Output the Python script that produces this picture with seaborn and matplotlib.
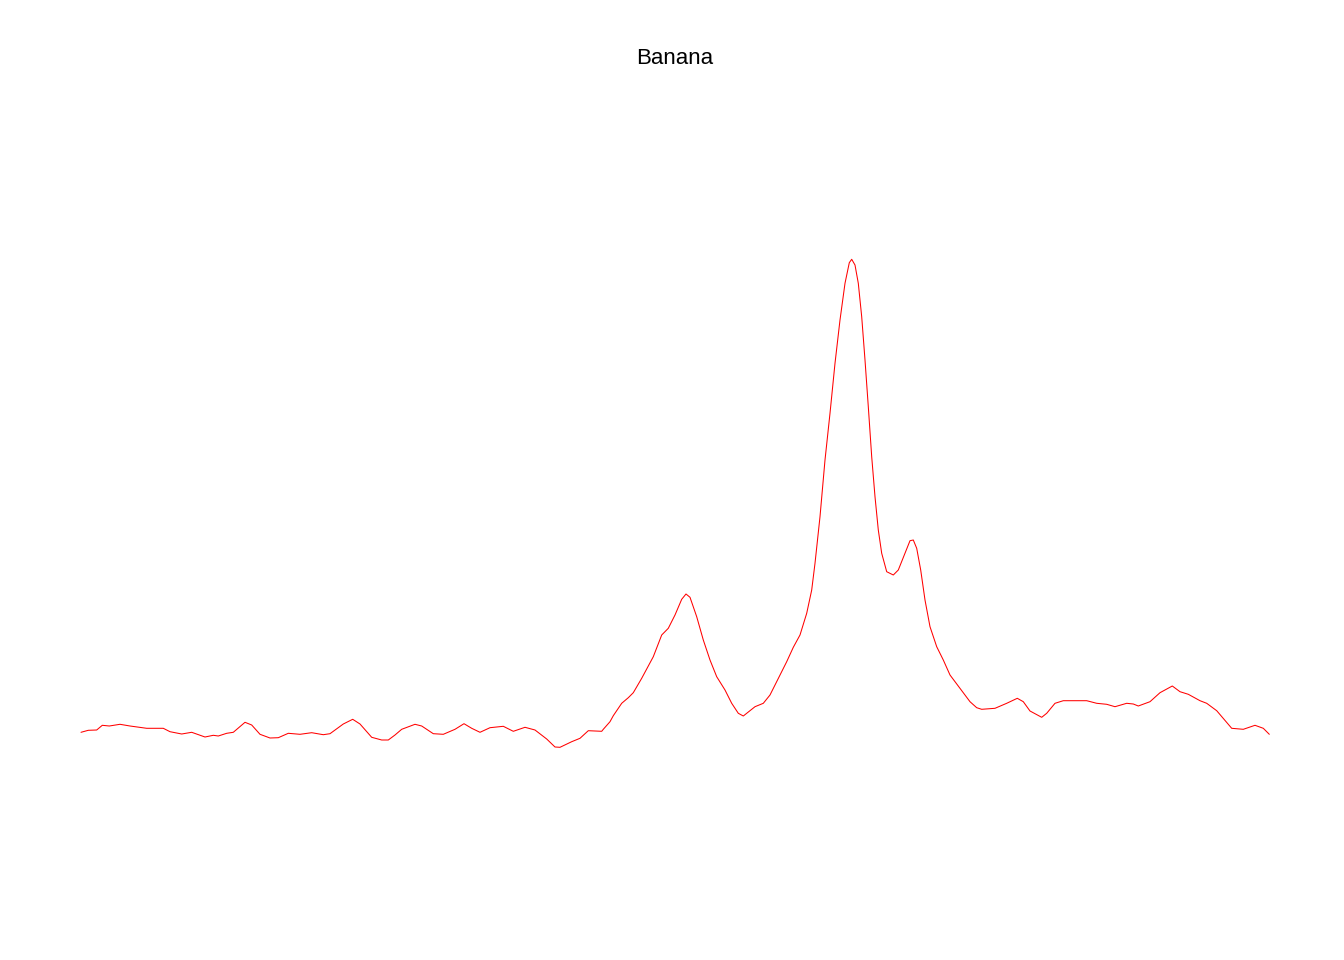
import matplotlib
matplotlib.use("Agg")
import matplotlib.pyplot as plt
import seaborn as sns
import pandas as pd

# Trace: position along the spectrum and signal height.
# Each line of position matches the same line of signal (10 values per line).
position = [
    0, 7.3, 15.7, 21.3, 28.3, 39, 49, 65.7, 82.3, 89,
    100.7, 110.7, 124, 132.3, 137.3, 145.7, 152.3, 164, 170.7, 179,
    189, 197.3, 207.3, 219, 230.7, 242.3, 249, 262.3, 271.7, 279,
    290.7, 300.7, 307.3, 314, 320.7, 334, 340.7, 352.3, 362.3, 374,
    383, 390.7, 399, 409, 422.3, 432.3, 444, 454, 465.7, 474,
    479, 490.7, 499, 507.3, 520.7, 522.3, 529, 532.3, 540.7, 547.3,
    552.3, 560.7, 572.3, 580.7, 587.3, 594, 600.7, 605, 609, 615.7,
    622.3, 629, 635.7, 644, 650.7, 657.3, 662.3, 674, 682.3, 689,
    695.7, 705.7, 712.3, 719, 725.7, 730.7, 734, 739, 744, 749,
    754, 759, 764, 768.3, 770.7, 774, 777.3, 780.7, 784, 787.3,
    790.7, 794, 797.3, 800.7, 805.7, 812.3, 817.3, 824, 829, 832.3,
    835.7, 839.7, 844, 849, 855.7, 862.3, 869, 879, 889, 895.7,
    900.7, 914, 925.7, 936.3, 942.3, 949, 960.7, 965.7, 974, 982.3,
    1005.7, 1015.7, 1025.7, 1034, 1045.7, 1052.3, 1057.3, 1069, 1079, 1091.3,
    1099, 1107.3, 1119, 1125.7, 1135.7, 1150.7, 1162.3, 1174, 1182.3, 1188.3,
]
signal = [
    27.7, 29.7, 30, 34.7, 34, 35.7, 34, 31.7, 31.7, 28.3,
    26, 27.7, 23, 24.7, 24, 26.7, 27.7, 37.7, 35, 25.7,
    22, 22.3, 26.7, 25.7, 27.3, 25.3, 26.3, 36, 40.7, 36,
    22.7, 20, 20, 25, 30.7, 35.7, 34, 26.3, 25.7, 30.7,
    36.3, 31.7, 27.7, 32.3, 33.7, 28.7, 32.7, 30, 21, 13,
    12.7, 18.3, 21.7, 29.3, 28.7, 30.7, 38.3, 44.3, 56.7, 62.3,
    67.3, 81.7, 103.3, 125, 131.7, 145, 160.7, 166, 162.7, 143.3,
    120, 100, 83.3, 70, 56.7, 46.7, 44, 53.3, 56.7, 65,
    78.3, 98.3, 112.7, 125, 146.7, 170, 196.7, 243.3, 300, 346.7,
    396.7, 440, 476.7, 497.3, 500.7, 495, 476.7, 443.3, 400, 353.3,
    303.3, 263.3, 230, 206.7, 188.3, 185, 190, 206.7, 219.3, 220,
    211.7, 190, 160, 133.3, 113.3, 100, 85, 71.7, 58.3, 52.3,
    50.7, 51.7, 56.7, 61.7, 58.3, 49, 42.7, 46.7, 56.7, 59.3,
    59.3, 56.7, 55.7, 53.3, 56.7, 56, 54, 58.3, 67.3, 74,
    68.3, 65.7, 59.3, 56.7, 49.3, 31.7, 30.7, 34.7, 31.7, 25.7,
]

df = pd.DataFrame({"position": position, "signal": signal})

sns.set_style("white")
plt.rcParams["font.family"] = ["Liberation Sans", "DejaVu Sans"]

fig = plt.figure(figsize=(13.44, 9.6), dpi=100)
ax = fig.add_axes([0, 0, 1, 1])
sns.lineplot(data=df, x="position", y="signal", color="red", linewidth=0.75,
             sort=False, ax=ax)
ax.set_xlim(-81, 1263)
ax.set_ylim(-200, 760)
ax.set_axis_off()

fig.text(0.5019, 1 - 58.5 / 960, "Banana", ha="center", va="center",
         fontsize=16, color="black")

fig.savefig("out.png", dpi=100)
